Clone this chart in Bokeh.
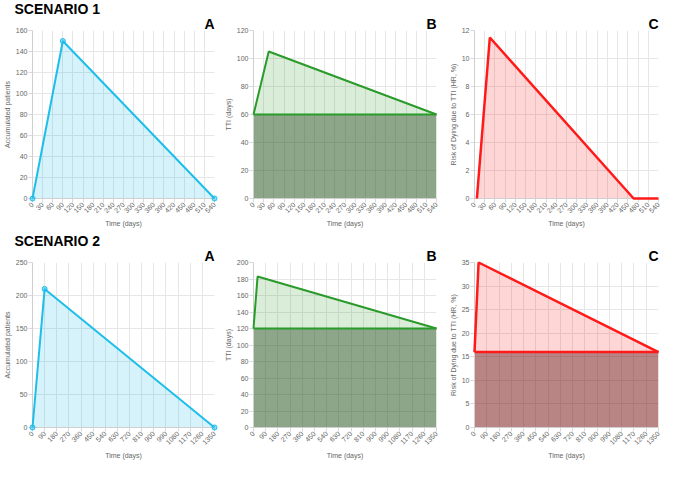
from bokeh.plotting import figure
from bokeh.models import Range1d, FixedTicker, Title
from bokeh.layouts import row, column
from bokeh.embed import file_html
from bokeh.resources import INLINE
import math

# ---------------- data ----------------
# Scenario 1
s1_ticks_x = [0, 30, 60, 90, 120, 150, 180, 210, 240, 270, 300, 330, 360, 390, 420, 450, 480, 510, 540]
s1a_x = [0, 90, 540]
s1a_y = [0, 150, 0]
s1a_ticks_y = [0, 20, 40, 60, 80, 100, 120, 140, 160]
s1b_x = [0, 45, 540]
s1b_y = [60, 105, 60]
s1b_base = 60
s1b_ticks_y = [0, 20, 40, 60, 80, 100, 120]
s1c_x = [7, 45, 467, 540]
s1c_y = [0, 11.5, 0, 0]
s1c_ticks_y = [0, 2, 4, 6, 8, 10, 12]

# Scenario 2
s2_ticks_x = [0, 90, 180, 270, 360, 450, 540, 630, 720, 810, 900, 990, 1080, 1170, 1260, 1350]
s2a_x = [0, 90, 1350]
s2a_y = [0, 210, 0]
s2a_ticks_y = [0, 50, 100, 150, 200, 250]
s2b_x = [0, 30, 1350]
s2b_y = [120, 183, 120]
s2b_base = 120
s2b_ticks_y = [0, 20, 40, 60, 80, 100, 120, 140, 160, 180, 200]
s2c_x = [0, 30, 1350]
s2c_y = [16, 35, 16]
s2c_base = 16
s2c_ticks_y = [0, 5, 10, 15, 20, 25, 30, 35]

FONT = "Liberation Sans"
CYAN = "#1ebeeb"
GREEN = "#2a9a2a"
RED = "#ff1a1a"


def make_fig(width, height, xticks, yticks, ylabel, letter, scenario,
             bl, br, bt, bb):
    p = figure(width=width, height=height,
               x_range=Range1d(xticks[0], xticks[-1]),
               y_range=Range1d(yticks[0], yticks[-1]),
               output_backend="svg", toolbar_location=None,
               min_border_left=bl, min_border_right=br,
               min_border_top=bt, min_border_bottom=bb)
    p.outline_line_color = None
    p.background_fill_color = "white"
    p.border_fill_color = "white"
    p.xaxis.ticker = FixedTicker(ticks=xticks)
    p.yaxis.ticker = FixedTicker(ticks=yticks)
    p.xaxis.major_label_orientation = math.pi / 4
    for ax in (p.xaxis[0], p.yaxis[0]):
        ax.axis_line_color = "#cfcfcf"
        ax.major_tick_line_color = "#d8d8d8"
        ax.major_tick_out = 4
        ax.major_tick_in = 0
        ax.minor_tick_line_color = None
        ax.major_label_text_font = FONT
        ax.major_label_text_font_size = "7px"
        ax.major_label_text_color = "#666666"
        ax.major_label_standoff = 1
        ax.axis_label_text_font = FONT
        ax.axis_label_text_font_size = "7px"
        ax.axis_label_text_font_style = "normal"
        ax.axis_label_text_color = "#666666"
        ax.axis_label_standoff = 2
    p.xaxis.axis_label = "Time (days)"
    p.yaxis.axis_label = ylabel
    p.grid.grid_line_color = "#e6e6e6"
    p.grid.grid_line_width = 1
    p.add_layout(Title(text=letter, align="right", text_font=FONT,
                       text_font_size="14px", text_font_style="bold",
                       text_color="black", standoff=-2), "above")
    if scenario:
        p.add_layout(Title(text=scenario, align="left", offset=-18, text_font=FONT,
                           text_font_size="14px", text_font_style="bold",
                           text_color="black", standoff=-4), "above")
    return p


def panel_a(p, xs, ys):
    p.patch(xs, ys, fill_color=CYAN, fill_alpha=0.18, line_color=None)
    p.line(xs, ys, line_color=CYAN, line_width=2, level="overlay")
    p.scatter(xs, ys, size=5, fill_color=CYAN, fill_alpha=0.5, line_color=CYAN,
              level="overlay")


def panel_band(p, xs, ys, base, color, dark, width):
    x0, x1 = xs[0], xs[-1]
    p.patch([x0, x0, x1, x1], [0, base, base, 0], fill_color=dark, fill_alpha=0.5,
            line_color=None)
    p.patch(xs, ys, fill_color=color, fill_alpha=0.18, line_color=None)
    p.line(xs, ys, line_color=color, line_width=width, level="overlay")
    p.line([x0, x1], [base, base], line_color=color, line_width=width, level="overlay")


H1, H2 = 230, 232
T1, T2 = 28, 32
B1, B2 = 32, 35

f1 = make_fig(221, H1, s1_ticks_x, s1a_ticks_y, "Accumulated patients", "A", "SCENARIO 1",
              30, 7, T1, B1)
panel_a(f1, s1a_x, s1a_y)

f2 = make_fig(221, H1, s1_ticks_x, s1b_ticks_y, "TTI (days)", "B", None, 31, 6, T1, B1)
panel_band(f2, s1b_x, s1b_y, s1b_base, GREEN, "#1c4e16", 2)

f3 = make_fig(218, H1, s1_ticks_x, s1c_ticks_y, "Risk of Dying due to TTI (HR, %)", "C", None,
              32, 2, T1, B1)
f3.patch(s1c_x, s1c_y, fill_color=RED, fill_alpha=0.18, line_color=None)
f3.line(s1c_x, s1c_y, line_color=RED, line_width=2.5, level="overlay")

f4 = make_fig(221, H2, s2_ticks_x, s2a_ticks_y, "Accumulated patients", "A", "SCENARIO 2",
              30, 7, T2, B2)
panel_a(f4, s2a_x, s2a_y)

f5 = make_fig(221, H2, s2_ticks_x, s2b_ticks_y, "TTI (days)", "B", None, 31, 6, T2, B2)
panel_band(f5, s2b_x, s2b_y, s2b_base, GREEN, "#1c4e16", 2)

f6 = make_fig(218, H2, s2_ticks_x, s2c_ticks_y, "Risk of Dying due to TTI (HR, %)", "C", None,
              32, 2, T2, B2)
panel_band(f6, s2c_x, s2c_y, s2c_base, RED, "#730a0a", 2.5)

layout = column(row(f1, f2, f3), row(f4, f5, f6))

open("out.html", "w").write(file_html(layout, INLINE))
